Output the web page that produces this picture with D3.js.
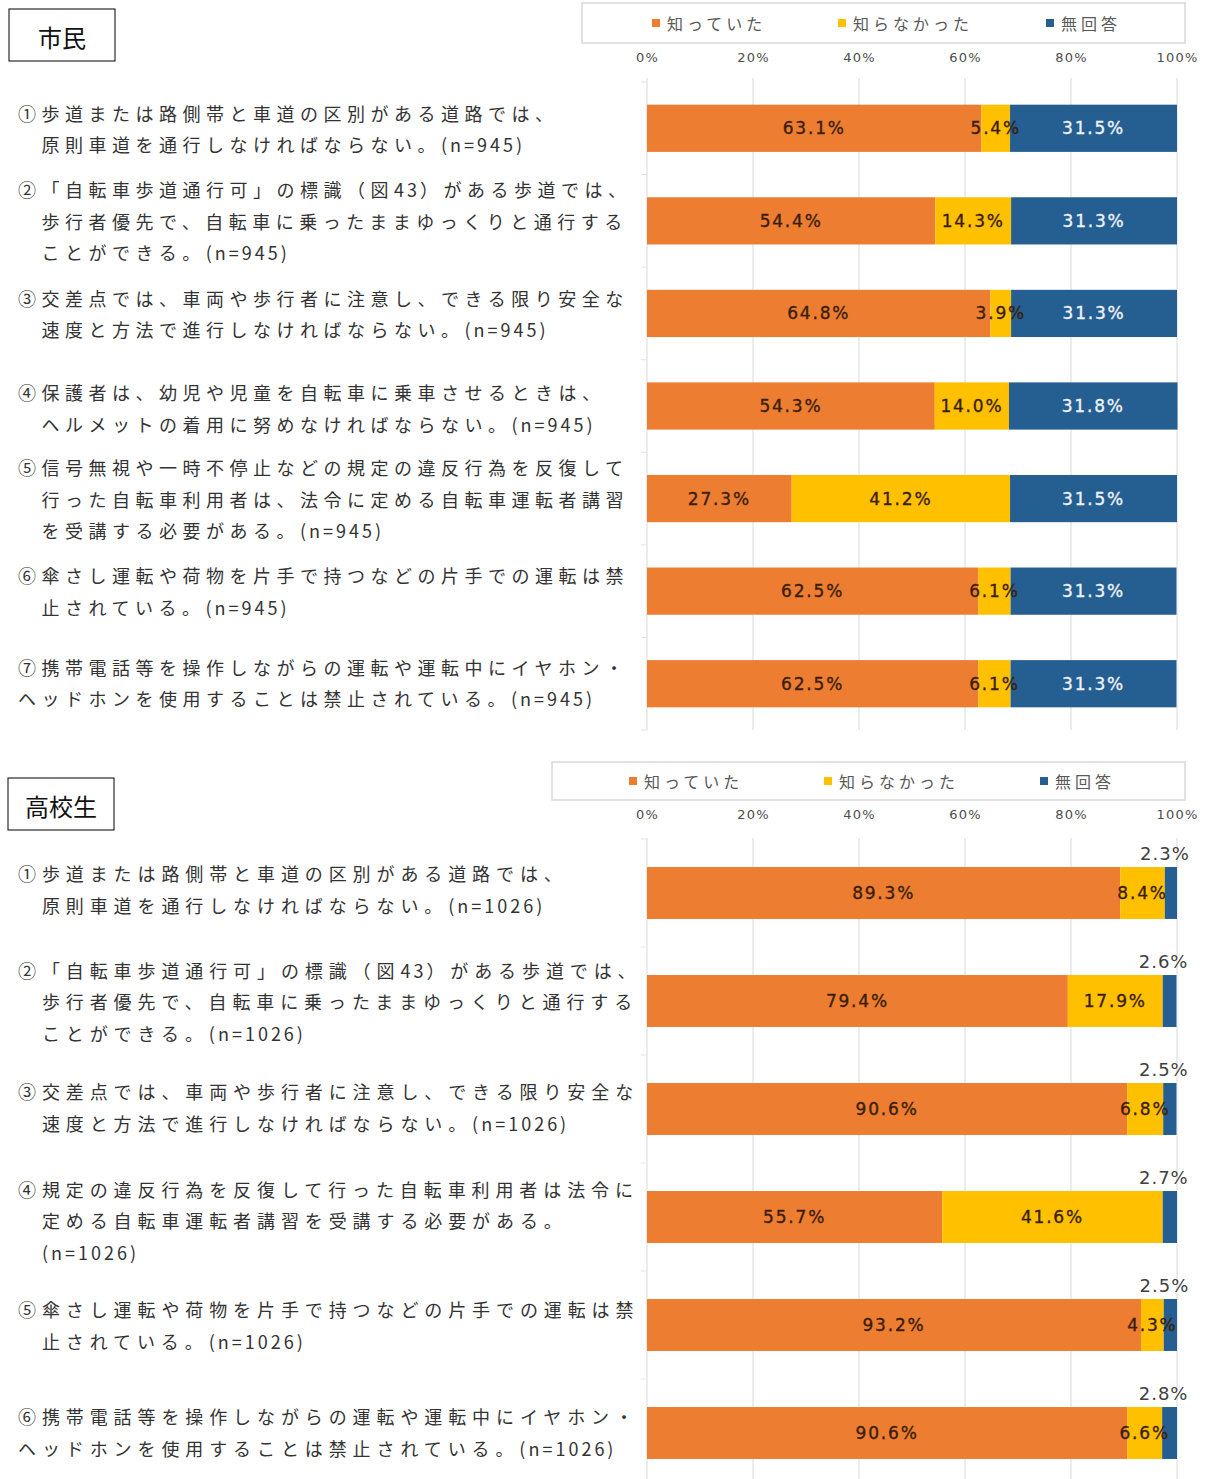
<!DOCTYPE html>
<html lang="ja">
<head>
<meta charset="utf-8">
<script src="https://cdn.jsdelivr.net/npm/d3@7"></script>
<style>
  html, body { margin: 0; padding: 0; background: #fff; }
  svg { display: block; }
</style>
</head>
<body>
<script>
// ---- data ----
const seriesNames = ["知っていた", "知らなかった", "無回答"];
const seriesColors = ["#ED7D31", "#FFC000", "#255E91"];
const tickValues = [0, 20, 40, 60, 80, 100];

const citizenTitle = "市民";
const citizenLabels = [
  ["①歩道または路側帯と車道の区別がある道路では、", "　原則車道を通行しなければならない。(n=945)"],
  ["②「自転車歩道通行可」の標識（図43）がある歩道では、", "　歩行者優先で、自転車に乗ったままゆっくりと通行する", "　ことができる。(n=945)"],
  ["③交差点では、車両や歩行者に注意し、できる限り安全な", "　速度と方法で進行しなければならない。(n=945)"],
  ["④保護者は、幼児や児童を自転車に乗車させるときは、", "　ヘルメットの着用に努めなければならない。(n=945)"],
  ["⑤信号無視や一時不停止などの規定の違反行為を反復して", "　行った自転車利用者は、法令に定める自転車運転者講習", "　を受講する必要がある。(n=945)"],
  ["⑥傘さし運転や荷物を片手で持つなどの片手での運転は禁", "　止されている。(n=945)"],
  ["⑦携帯電話等を操作しながらの運転や運転中にイヤホン・", "ヘッドホンを使用することは禁止されている。(n=945)"]
];
const citizenKnew    = [63.1, 54.4, 64.8, 54.3, 27.3, 62.5, 62.5];
const citizenDidNot  = [5.4, 14.3, 3.9, 14.0, 41.2, 6.1, 6.1];
const citizenNoReply = [31.5, 31.3, 31.3, 31.8, 31.5, 31.3, 31.3];

const studentTitle = "高校生";
const studentLabels = [
  ["①歩道または路側帯と車道の区別がある道路では、", "　原則車道を通行しなければならない。(n=1026)"],
  ["②「自転車歩道通行可」の標識（図43）がある歩道では、", "　歩行者優先で、自転車に乗ったままゆっくりと通行する", "　ことができる。(n=1026)"],
  ["③交差点では、車両や歩行者に注意し、できる限り安全な", "　速度と方法で進行しなければならない。(n=1026)"],
  ["④規定の違反行為を反復して行った自転車利用者は法令に", "　定める自転車運転者講習を受講する必要がある。", "　(n=1026)"],
  ["⑤傘さし運転や荷物を片手で持つなどの片手での運転は禁", "　止されている。(n=1026)"],
  ["⑥携帯電話等を操作しながらの運転や運転中にイヤホン・", "ヘッドホンを使用することは禁止されている。(n=1026)"]
];
const studentKnew    = [89.3, 79.4, 90.6, 55.7, 93.2, 90.6];
const studentDidNot  = [8.4, 17.9, 6.8, 41.6, 4.3, 6.6];
const studentNoReply = [2.3, 2.6, 2.5, 2.7, 2.5, 2.8];

// ---- drawing ----
const W = 1207, H = 1479;
const svg = d3.select("body").append("svg").attr("width", W).attr("height", H);

const JP = "'Noto Sans CJK JP', 'Noto Sans', sans-serif";
const NUM = "'DejaVu Sans', 'Noto Sans', sans-serif";
const fmt = v => v.toFixed(1) + "%";

// Write one label line, giving Latin runs tighter spacing than kana/kanji.
function writeLine(textSel, line, spacingCJK, spacingLatin) {
  const runs = line.match(/[\x20-\x7e]+|[^\x20-\x7e]+/g) || [];
  runs.forEach(r => {
    const ascii = /^[\x20-\x7e]+$/.test(r);
    textSel.append("tspan")
      .attr("letter-spacing", ascii ? spacingLatin : spacingCJK)
      .text(r);
  });
}

function drawPanel(cfg) {
  const g = svg.append("g");

  // title box
  g.append("rect")
    .attr("x", cfg.titleBox[0]).attr("y", cfg.titleBox[1])
    .attr("width", cfg.titleBox[2]).attr("height", cfg.titleBox[3])
    .attr("fill", "#fff").attr("stroke", "#000").attr("stroke-width", 1);
  g.append("text")
    .attr("x", cfg.titleBox[0] + cfg.titleBox[2] / 2)
    .attr("y", cfg.titleBox[1] + cfg.titleBox[3] / 2 + 1)
    .attr("text-anchor", "middle").attr("dominant-baseline", "central")
    .attr("font-family", JP).attr("font-size", 24).attr("fill", "#111")
    .text(cfg.title);

  // legend box
  const lb = cfg.legendBox;
  g.append("rect")
    .attr("x", lb[0]).attr("y", lb[1]).attr("width", lb[2]).attr("height", lb[3])
    .attr("fill", "#fff").attr("stroke", "#d9d9d9").attr("stroke-width", 1.5);
  seriesNames.forEach((name, i) => {
    const lx = cfg.legendX[i], cy = lb[1] + lb[3] / 2;
    g.append("rect")
      .attr("x", lx).attr("y", cy - 4).attr("width", 8).attr("height", 8)
      .attr("fill", seriesColors[i]);
    g.append("text")
      .attr("x", lx + 15).attr("y", cy)
      .attr("dominant-baseline", "central")
      .attr("font-family", JP).attr("font-size", 16).attr("fill", "#595959")
      .attr("letter-spacing", 4)
      .text(name);
  });

  // scales
  const x = d3.scaleLinear().domain([0, 100]).range([647, 1177]);
  const n = cfg.knew.length;
  const y = d3.scaleBand().domain(d3.range(n))
    .range(cfg.yRange).paddingInner(cfg.padIn).paddingOuter(cfg.padIn / 2);

  // gridlines
  g.append("g").selectAll("line").data(tickValues).join("line")
    .attr("x1", d => x(d)).attr("x2", d => x(d))
    .attr("y1", cfg.gridTop).attr("y2", cfg.gridBottom)
    .attr("stroke", "#d9d9d9").attr("stroke-width", 1);

  // category separator ticks on the left axis
  g.append("g").selectAll("line").data(d3.range(n + 1)).join("line")
    .attr("x1", x(0) - 6).attr("x2", x(0))
    .attr("y1", i => cfg.yRange[0] + i * y.step())
    .attr("y2", i => cfg.yRange[0] + i * y.step())
    .attr("stroke", "#e3e3e3");

  // top axis labels
  const axis = d3.axisTop(x).tickValues(tickValues).tickSize(0).tickFormat(d => d + "%");
  const ax = g.append("g").attr("transform", `translate(0,${cfg.tickY})`).call(axis);
  ax.select(".domain").remove();
  ax.selectAll("text")
    .attr("font-family", NUM).attr("font-size", 13).attr("fill", "#4d4d4d")
    .attr("letter-spacing", 1.2).attr("dy", 0);

  // stacked bars
  const rows = d3.range(n).map(i => ({
    i, vals: [cfg.knew[i], cfg.didNot[i], cfg.noReply[i]]
  }));
  rows.forEach(r => {
    let acc = 0;
    r.segs = r.vals.map((v, k) => {
      const s = { k, v, x0: acc, x1: acc + v };
      acc += v;
      return s;
    });
  });

  const rowG = g.append("g").selectAll("g").data(rows).join("g");
  rowG.selectAll("rect").data(r => r.segs.map(s => ({ ...s, i: r.i }))).join("rect")
    .attr("x", s => x(s.x0))
    .attr("width", s => x(s.x1) - x(s.x0))
    .attr("y", s => y(s.i))
    .attr("height", y.bandwidth())
    .attr("fill", s => seriesColors[s.k]);

  // value labels
  rowG.selectAll("text.val").data(r => r.segs.map(s => ({ ...s, i: r.i }))).join("text")
    .attr("class", "val")
    .each(function (s) {
      const t = d3.select(this);
      const outside = cfg.noReplyAbove && s.k === 2;
      const cx = x((s.x0 + s.x1) / 2);
      t.attr("font-family", NUM).attr("font-size", outside ? 18 : 17)
        .attr("letter-spacing", outside ? 1 : 1.8)
        .attr("text-anchor", "middle");
      if (outside) {
        t.attr("x", cx - 6).attr("y", y(s.i) - 7).attr("fill", "#404040");
      } else {
        t.attr("x", cx).attr("y", y(s.i) + y.bandwidth() / 2)
          .attr("dominant-baseline", "central")
          .attr("fill", s.k === 2 ? "#eef3fa" : "#3a1e08")
          .attr("stroke", s.k === 2 ? "#eef3fa" : "#3a1e08")
          .attr("stroke-width", 0.35);
      }
      t.text(fmt(s.v));
    });

  // category labels, vertically centred on their bars
  const lh = 31.5;
  cfg.labels.forEach((lines, i) => {
    const cy = y(i) + y.bandwidth() / 2 + cfg.labelShift[i];
    lines.forEach((line, j) => {
      const ly = cy + (j - (lines.length - 1) / 2) * lh;
      const t = g.append("text")
        .attr("x", 18).attr("y", ly)
        .attr("dominant-baseline", "central")
        .attr("font-family", JP).attr("font-size", 18).attr("fill", "#333");
      writeLine(t, line, cfg.cjkSpacing, 3);
    });
  });
}

drawPanel({
  title: citizenTitle,
  titleBox: [9, 9, 106, 52],
  legendBox: [582, 3, 603, 40],
  legendX: [652, 838, 1046],
  tickY: 65,
  yRange: [82, 730],
  padIn: 0.49,
  gridTop: 78, gridBottom: 730,
  labels: citizenLabels,
  labelShift: [0, 0, 0, 2, 0, 0, -1],
  knew: citizenKnew, didNot: citizenDidNot, noReply: citizenNoReply,
  noReplyAbove: false,
  cjkSpacing: 5.5
});

drawPanel({
  title: studentTitle,
  titleBox: [8, 778, 106, 52],
  legendBox: [552, 762, 633, 38],
  legendX: [629, 824, 1040],
  tickY: 822,
  yRange: [839, 1487],
  padIn: 0.519,
  gridTop: 838, gridBottom: 1479,
  labels: studentLabels,
  labelShift: [-4, 0, -2, 3, 0, -1],
  knew: studentKnew, didNot: studentDidNot, noReply: studentNoReply,
  noReplyAbove: true,
  cjkSpacing: 5.9
});
</script>
</body>
</html>
